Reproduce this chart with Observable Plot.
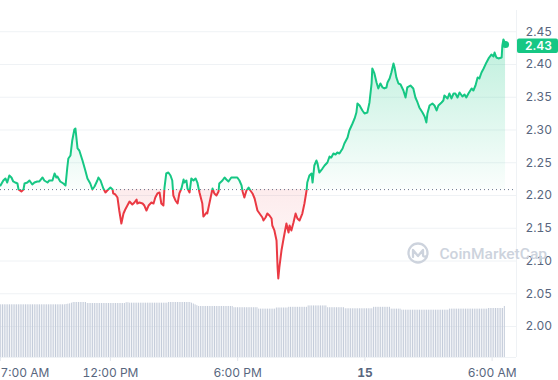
<!DOCTYPE html>
<html>
<head>
<meta charset="utf-8">
<script src="https://cdn.jsdelivr.net/npm/d3@7"></script>
<script src="https://cdn.jsdelivr.net/npm/@observablehq/plot@0.6"></script>
<style>
html, body { margin: 0; padding: 0; background: #fff; }
#chart { position: relative; width: 558px; height: 380px; font-family: Inter, sans-serif; }
#chart svg { position: absolute; left: 0; top: 0; }
</style>
</head>
<body>
<div id="chart"></div>
<script>
// ---- data (minutes after 7:00 AM on the 14th) ----
const priceMinutes = [-11,-3,3,8,14,20,25,31,37,40,48,54,57,65,71,79,85,93,99,108,113,122,127,136,142,147,150,158,167,173,178,181,187,192,198,201,207,212,221,229,235,243,249,255,263,266,
272,280,286,291,300,306,308,314,320,325,331,337,342,348,354,362,368,374,376,382,391,396,402,408,416,422,427,433,439,444,450,453,458,464,470,475,478,484,490,495,501,507,509,515,518,524,529,535,541,546,552,
560,563,572,574,580,586,589,594,600,606,608,617,623,628,634,642,648,659,665,671,674,679,685,691,696,702,708,716,722,730,733,739,744,750,756,758,764,770,773,775,778,784,790,798,804,807,812,818,824,829,835,843,849,855,857,863,
869,872,877,883,886,891,900,906,914,920,925,931,937,942,948,957,962,971,976,985,991,996,999,1005,1013,1019,1027,1033,1039,1041,1047,1053,1058,1064,1070,1075,1081,1084,1090,1095,1101,1104,1109,1115,1121,
1129,1135,1140,1149,1157,1163,1169,1174,1183,1189,1194,1197,1203,1211,1217,1223,1228,1237,1242,1245,1254,1259,1265,1271,1276,1282,1288,1296,1302,1307,1313,1322,1327,1333,1339,1344,1350,1356,1364,1370,1378,1384,1387,1392,1398,1407,1409,1412,1418];

const prices = [2.2153,2.2229,2.2260,2.2198,2.2305,2.2275,2.2214,2.2198,2.2183,2.2092,2.2061,2.2092,2.2183,2.2198,2.2229,2.2168,2.2198,2.2214,2.2214,2.2275,2.2229,2.2198,2.2229,2.2229,2.2336,2.2275,2.2290,2.2214,2.2183,2.2153,2.2427,2.2565,2.2611,2.2840,2.3008,2.3023,2.2718,2.2687,2.2534,2.2382,2.2260,2.2183,2.2092,2.2137,2.2229,2.2275,
2.2229,2.2107,2.2046,2.2076,2.2122,2.2092,2.2031,2.2015,2.1969,2.1771,2.1573,2.1725,2.1786,2.1847,2.1908,2.1863,2.1893,2.1939,2.1878,2.1893,2.1878,2.1847,2.1771,2.1847,2.1893,2.1878,2.1969,2.2031,2.2046,2.1878,2.1847,2.2122,2.2336,2.2351,2.2305,2.2229,2.2000,2.1924,2.1878,2.2031,2.2107,2.2244,2.2198,2.2229,2.2107,2.2046,2.2260,2.2229,2.2260,2.2198,2.2046,
2.1878,2.1679,2.1740,2.1725,2.1878,2.2031,2.2107,2.2031,2.2000,2.2061,2.2183,2.2229,2.2275,2.2244,2.2214,2.2275,2.2275,2.2275,2.2229,2.2153,2.2061,2.1969,2.2076,2.2122,2.2076,2.2031,2.1954,2.1771,2.1725,2.1664,2.1618,2.1664,2.1725,2.1695,2.1649,2.1542,2.1466,2.1313,2.0901,2.0733,2.0901,2.1160,2.1344,2.1573,2.1435,2.1542,2.1466,2.1588,2.1725,2.1649,2.1618,2.1725,2.1878,2.2076,2.2198,2.2305,
2.2336,2.2198,2.2458,2.2534,2.2489,2.2351,2.2412,2.2458,2.2504,2.2595,2.2580,2.2641,2.2626,2.2656,2.2641,2.2718,2.2794,2.2885,2.2992,2.3099,2.3176,2.3267,2.3405,2.3374,2.3298,2.3252,2.3267,2.3420,2.3710,2.3939,2.3863,2.3725,2.3634,2.3710,2.3649,2.3634,2.3649,2.3725,2.3786,2.3878,2.4015,2.3954,2.3802,2.3710,2.3695,
2.3603,2.3496,2.3649,2.3679,2.3634,2.3496,2.3420,2.3344,2.3267,2.3206,2.3115,2.3252,2.3374,2.3405,2.3374,2.3298,2.3374,2.3420,2.3450,2.3527,2.3481,2.3557,2.3481,2.3557,2.3557,2.3496,2.3573,2.3511,2.3542,2.3496,2.3557,2.3634,2.3603,2.3679,2.3802,2.3786,2.3878,2.3939,2.4031,2.4092,2.4153,2.4122,2.4183,2.4107,2.4092,2.4107,2.4290,2.4382,2.4305];

// 24h volume (billions), one bar every 5 minutes starting at volumeStartMinute
const volumeStartMinute = -9;
const volumeStepMinutes = 5;
const volumes = [
9.41,9.41,9.41,9.41,9.41,9.41,9.41,9.41,9.41,9.41,
9.41,9.41,9.41,9.41,9.41,9.41,9.41,9.41,9.41,9.41,
9.41,9.41,9.41,9.41,9.41,9.41,9.41,9.41,9.41,9.41,
9.41,9.41,9.41,9.41,9.41,9.41,9.41,
9.47,9.52,9.58,9.70,
9.82,9.82,9.82,9.82,9.82,9.82,9.82,9.82,
9.64,9.64,9.64,9.64,9.64,9.64,9.64,9.64,9.64,9.64,9.64,9.64,9.64,9.64,9.64,9.64,9.64,9.64,9.64,9.64,9.64,9.64,
9.78,9.78,
9.70,9.70,9.70,9.70,9.70,9.70,9.70,9.70,9.70,9.70,9.70,9.70,9.70,9.70,9.70,9.70,9.70,9.70,9.70,9.70,9.70,9.70,
9.82,9.82,9.82,9.82,9.82,9.82,9.82,9.82,9.82,9.82,9.82,9.82,9.82,
9.70,9.55,9.40,9.25,
9.11,9.11,9.11,9.11,9.11,9.11,9.11,9.11,9.11,9.11,9.11,9.11,9.11,9.11,9.11,9.11,9.11,9.11,9.11,9.11,
8.89,8.89,8.89,8.89,8.89,8.89,8.89,8.89,8.89,8.89,8.89,8.89,8.89,8.89,
8.64,8.64,8.64,8.64,8.64,8.64,8.64,8.64,8.64,8.64,
8.84,8.84,8.84,8.84,8.84,8.84,8.84,
8.96,8.96,8.96,8.96,8.96,8.96,8.96,8.96,8.96,8.96,8.96,
9.21,9.21,9.21,9.21,9.21,9.21,9.21,9.21,9.21,9.21,9.21,
8.89,8.89,8.89,8.89,8.89,8.89,8.89,8.89,8.89,8.89,
8.70,8.70,8.70,8.70,8.70,8.70,8.70,8.70,8.70,8.70,8.70,8.70,8.70,8.70,8.70,8.70,
8.96,8.96,8.96,8.96,8.96,8.96,8.96,8.96,8.96,8.96,
8.64,8.64,8.64,8.64,8.64,8.64,
8.45,8.45,8.45,8.45,8.45,8.45,8.45,8.45,8.45,8.45,8.45,8.45,8.45,8.45,8.45,8.45,8.45,8.45,8.45,8.45,8.45,8.45,8.45,8.45,8.45,8.45,8.45,
8.64,8.64,8.64,8.64,8.64,8.64,8.64,8.64,8.64,8.64,8.64,8.64,8.64,8.64,8.64,8.64,8.64,8.64,8.64,8.64,8.64,8.64,
8.75,8.75,8.75,8.75,8.75,8.75,8.75,8.75,8.75,
9.11];

const baselinePrice = 2.209;
const yTicks = [2.00, 2.05, 2.10, 2.15, 2.20, 2.25, 2.30, 2.35, 2.40, 2.45];
const xTickMinutes = [0, 300, 660, 1020, 1380];
const xTickLabels = ["7:00 AM", "12:00 PM", "6:00 PM", "15", "6:00 AM"];
const xDomainMinutes = [-11, 1449];
const lastPriceLabel = "2.43";
const watermarkText = "CoinMarketCap";

// ---- setup ----
const GREEN = "#16c784", RED = "#ea3943", MUTED = "#58667e", GRID = "#eff2f5", WM = "#cdd3dd";
const baseTime = Date.UTC(2024, 11, 14, 7, 0);
const toDate = m => new Date(baseTime + m * 60000);
const W = 558, H = 380, MT = 10, MB = 23, MR = 42;
const yDomain = [1.9527, 2.4824];
const xDomain = xDomainMinutes.map(toDate);

const priceData = priceMinutes.map((m, i) => ({t: toDate(m), p: prices[i]}));
const last = priceData[priceData.length - 1];
const volData = volumes.map((v, i) => {
  const c = volumeStartMinute + i * volumeStepMinutes;
  return {t0: toDate(c - volumeStepMinutes / 2), t1: toDate(c + volumeStepMinutes / 2), v};
});
const xTicks = xTickMinutes.map(toDate);
const labelOf = d => xTickLabels[xTicks.findIndex(t => +t === +d)];

function gradients(index, scales, values, dims) {
  const yb = scales.y(baselinePrice);
  const g = d3.create("svg:g");
  const defs = g.append("defs");
  const f = yb / dims.height;
  const lg = defs.append("linearGradient").attr("id", "cmc-line").attr("gradientUnits", "userSpaceOnUse")
    .attr("x1", 0).attr("y1", 0).attr("x2", 0).attr("y2", dims.height);
  lg.append("stop").attr("offset", f).attr("stop-color", GREEN);
  lg.append("stop").attr("offset", f).attr("stop-color", RED);
  const top = scales.y(d3.max(prices)), bot = scales.y(d3.min(prices));
  const fb = (yb - top) / (bot - top);
  const ag = defs.append("linearGradient").attr("id", "cmc-area").attr("gradientUnits", "userSpaceOnUse")
    .attr("x1", 0).attr("y1", top).attr("x2", 0).attr("y2", bot);
  ag.append("stop").attr("offset", 0).attr("stop-color", GREEN).attr("stop-opacity", 0.28);
  ag.append("stop").attr("offset", fb).attr("stop-color", GREEN).attr("stop-opacity", 0.02);
  ag.append("stop").attr("offset", fb).attr("stop-color", RED).attr("stop-opacity", 0.10);
  ag.append("stop").attr("offset", 1).attr("stop-color", RED).attr("stop-opacity", 0.02);
  return g.node();
}

function logo(index, scales, values, dims) {
  const cx = dims.width - dims.marginRight - 98, cy = dims.height - dims.marginBottom - 104;
  const g = d3.create("svg:g").attr("fill", "none").attr("stroke", WM).attr("stroke-width", 2.3)
    .attr("stroke-linejoin", "round").attr("stroke-linecap", "round");
  g.append("circle").attr("cx", cx).attr("cy", cy).attr("r", 9.5);
  g.append("path").attr("d", `M${cx-5},${cy+4} V${cy-3} L${cx},${cy+3} L${cx+5},${cy-3} V${cy+2} q0,2 2.5,1.5`);
  return g.node();
}

function priceTag(index, scales, values, dims) {
  const y = scales.y(last.p);
  const x0 = dims.width - dims.marginRight + 1;
  const g = d3.create("svg:g");
  g.append("rect").attr("x", x0).attr("y", y - 5.5).attr("width", dims.width - x0).attr("height", 14.5)
    .attr("rx", 2).attr("fill", GREEN);
  g.append("text").attr("x", dims.width - dims.marginRight + 9).attr("y", y + 1.8).attr("dy", "0.35em")
    .attr("text-anchor", "start").attr("fill", "#fff").attr("font-size", 12).attr("font-weight", 600)
    .text(lastPriceLabel);
  return g.node();
}

const axisCommon = {label: null, tickSize: 4, tickPadding: 7, stroke: "#e3e7ee", fill: MUTED, tickFormat: labelOf};

const pricePlot = Plot.plot({
  width: W, height: H, marginTop: MT, marginBottom: MB, marginLeft: 0, marginRight: MR,
  style: {fontFamily: "Inter, sans-serif", fontSize: "12px", color: MUTED, background: "#fff", overflow: "visible"},
  x: {type: "utc", domain: xDomain, label: null},
  y: {domain: yDomain, label: null},
  marks: [
    gradients,
    Plot.ruleY(yTicks, {stroke: GRID}),
    Plot.ruleY([yDomain[0]], {stroke: GRID}),
    Plot.ruleX([xDomain[1]], {stroke: GRID}),
    Plot.areaY(priceData, {x: "t", y1: baselinePrice, y2: "p", fill: "url(#cmc-area)"}),
    Plot.ruleY([baselinePrice], {stroke: MUTED, strokeDasharray: "1,3", strokeOpacity: 0.9}),
    Plot.line(priceData, {x: "t", y: "p", stroke: "url(#cmc-line)", strokeWidth: 2}),
    Plot.dot([last], {x: "t", y: "p", r: 3.5, fill: GREEN}),
    Plot.axisY(yTicks, {label: null, anchor: "right", tickSize: 0, tickPadding: 9, fill: MUTED, tickFormat: d => d.toFixed(2)}),
    Plot.axisX([xTicks[0]], {...axisCommon, textAnchor: "start", dx: -4}),
    Plot.axisX([xTicks[1], xTicks[2], xTicks[4]], axisCommon),
    Plot.axisX([xTicks[3]], {...axisCommon, fontWeight: "bold"}),
    logo,
    Plot.text([watermarkText], {frameAnchor: "bottom-right", dx: -77, dy: -103, textAnchor: "start",
      lineAnchor: "middle", fill: WM, fontSize: 15.5, fontWeight: 500, fontFamily: "Roboto, sans-serif"}),
    priceTag
  ]
});

const volumePlot = Plot.plot({
  width: W, height: H, marginTop: MT, marginBottom: MB, marginLeft: 0, marginRight: MR,
  style: {background: "transparent"},
  x: {type: "utc", domain: xDomain, axis: null},
  y: {domain: [0, d3.max(volumes)], range: [H - MB, H - MB - 55], axis: null},
  marks: [
    Plot.rectY(volData, {x1: "t0", x2: "t1", y: "v", fill: "#c3cbd9", insetLeft: 0.4, insetRight: 0.4})
  ]
});

const chart = document.getElementById("chart");
chart.appendChild(pricePlot);
chart.appendChild(volumePlot);
</script>
</body>
</html>
